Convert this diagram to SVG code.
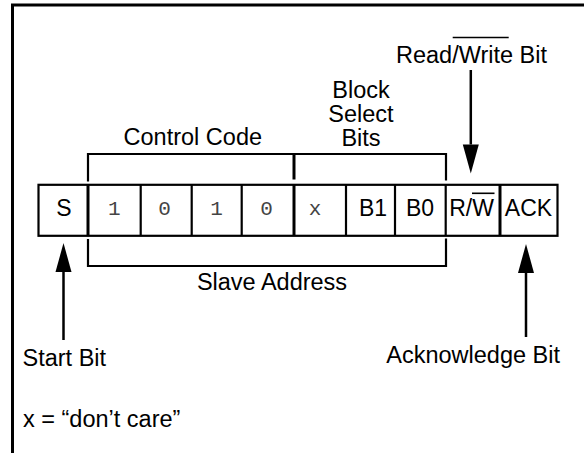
<svg xmlns="http://www.w3.org/2000/svg" width="584" height="453" viewBox="0 0 584 453">
  <style>
    .lbl { font-family: "Liberation Sans", Arial, sans-serif; font-size: 23.5px; fill: #000; }
    .cell { font-family: "Liberation Sans", Arial, sans-serif; font-size: 23px; fill: #000; text-anchor: middle; }
    .mono { font-family: "Liberation Mono", "Courier New", monospace; font-size: 21px; fill: #444; text-anchor: middle; }
    .mid { text-anchor: middle; }
    .box { fill: #fff; stroke: #000; stroke-width: 2.2; }
    .thin { stroke: #000; stroke-width: 2.2; fill: none; }
    .thick { stroke: #000; stroke-width: 3; fill: none; }
    .arrow { stroke: #000; stroke-width: 2.5; fill: none; marker-end: url(#head); }
    .ovl { stroke: #000; stroke-width: 1.6; }
  </style>
  <defs>
    <marker id="head" markerUnits="userSpaceOnUse" markerWidth="30" markerHeight="18" refX="0" refY="8" orient="auto" overflow="visible">
      <path d="M0,0 L29,8 L0,16 z" fill="#000"/>
    </marker>
  </defs>

  <rect width="584" height="453" fill="#fff"/>

  <g id="frame">
    <path d="M12.5,453 V5 H584" class="thick" stroke-width="2.6"/>
  </g>

  <!-- cells -->
  <g id="row">
    <rect x="38.5" y="184.8" width="519" height="51" class="box"/>
  </g>
  <g id="cell-S">
    <text class="cell" x="64" y="215.5">S</text>
  </g>
  <g id="cell-1a">
    <line x1="88" y1="184.8" x2="88" y2="235.8" class="thick"/>
    <text class="mono" x="114.3" y="214.5">1</text>
  </g>
  <g id="cell-0a">
    <line x1="140.7" y1="184.8" x2="140.7" y2="235.8" class="thin"/>
    <text class="mono" x="164.5" y="214.5">0</text>
  </g>
  <g id="cell-1b">
    <line x1="191.7" y1="184.8" x2="191.7" y2="235.8" class="thin"/>
    <text class="mono" x="216.5" y="214.5">1</text>
  </g>
  <g id="cell-0b">
    <line x1="241.7" y1="184.8" x2="241.7" y2="235.8" class="thin"/>
    <text class="mono" x="266.5" y="214.5">0</text>
  </g>
  <g id="cell-x">
    <line x1="294" y1="184.8" x2="294" y2="235.8" class="thick"/>
    <text class="mono" x="315" y="214.5">x</text>
  </g>
  <g id="cell-B1">
    <line x1="346" y1="184.8" x2="346" y2="235.8" class="thin"/>
    <text class="cell" x="373" y="215.5">B1</text>
  </g>
  <g id="cell-B0">
    <line x1="395" y1="184.8" x2="395" y2="235.8" class="thin"/>
    <text class="cell" x="420" y="215.5">B0</text>
  </g>
  <g id="cell-RW">
    <line x1="445.7" y1="184.8" x2="445.7" y2="235.8" class="thin"/>
    <text class="cell" x="471.5" y="215.5">R/W</text>
    <line x1="472" y1="193.3" x2="494.5" y2="193.3" class="ovl"/>
  </g>
  <g id="cell-ACK">
    <line x1="500" y1="184.8" x2="500" y2="235.8" class="thick"/>
    <text class="cell" x="528.5" y="215.5">ACK</text>
  </g>

  <!-- labels -->
  <g id="label-control-code">
    <text class="lbl mid" x="192.8" y="145">Control Code</text>
  </g>
  <g id="label-block-select">
    <text class="lbl mid" x="361" y="97.5">Block</text>
    <text class="lbl mid" x="361" y="121.5">Select</text>
    <text class="lbl mid" x="361" y="145.5">Bits</text>
  </g>
  <g id="label-read-write">
    <text class="lbl mid" x="471.5" y="63">Read/Write Bit</text>
    <line x1="452.7" y1="37.5" x2="508.7" y2="37.5" class="ovl"/>
  </g>
  <g id="label-slave-address">
    <text class="lbl mid" x="272" y="290">Slave Address</text>
  </g>
  <g id="label-start-bit">
    <text class="lbl" x="22.5" y="366">Start Bit</text>
  </g>
  <g id="label-ack-bit">
    <text class="lbl" x="560" y="363" text-anchor="end">Acknowledge Bit</text>
  </g>
  <g id="note">
    <text class="lbl" x="23" y="427">x = “don’t care”</text>
  </g>

  <!-- connectors -->
  <g id="connectors">
    <path d="M88,181.5 V154 H446 V180.5" class="thin"/>
    <line x1="294" y1="154" x2="294" y2="179.5" class="thick"/>
    <path d="M88,239 V266 H446 V238.5" class="thin"/>
    <line x1="470.8" y1="70" x2="470.8" y2="144.5" class="arrow"/>
    <line x1="63.5" y1="340" x2="63.5" y2="272" class="arrow"/>
    <line x1="526" y1="337" x2="526" y2="273" class="arrow"/>
  </g>
</svg>
